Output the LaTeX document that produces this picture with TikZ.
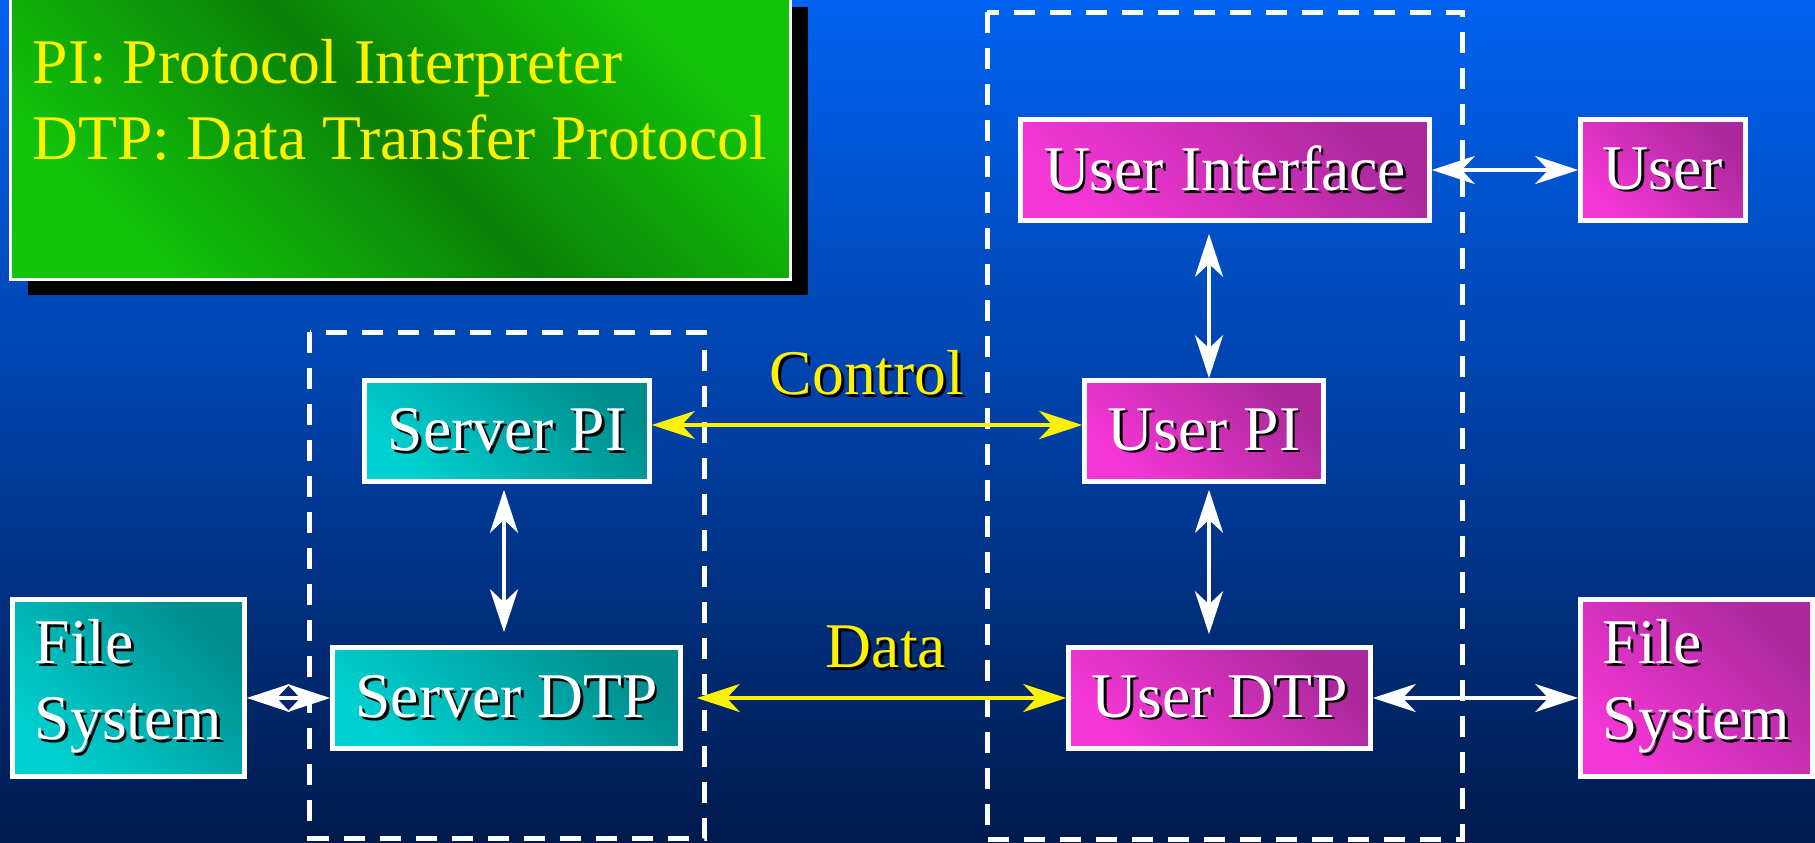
\documentclass[tikz,border=0pt]{standalone}
\usepackage{fontspec}
\setmainfont{Liberation Serif}
\usetikzlibrary{arrows.meta,shadows}
\definecolor{ftpsky}{RGB}{0,98,240}
\definecolor{ftpmid}{RGB}{0,64,165}
\definecolor{ftpnight}{RGB}{0,26,76}
\definecolor{tealhi}{RGB}{0,208,208}
\definecolor{teallo}{RGB}{0,140,140}
\definecolor{pinkhi}{RGB}{245,55,215}
\definecolor{pinklo}{RGB}{170,40,155}
\definecolor{keyhi}{RGB}{18,196,10}
\definecolor{keylo}{RGB}{10,128,8}
% white (or yellow) text with a small black shadow
\newcommand{\embossed}[1]{\makebox[0pt][l]{\kern0.8pt\raisebox{-0.8pt}{\textcolor{black}{#1}}}#1}

\begin{document}
\begin{tikzpicture}[
  font=\fontsize{18.1}{21.6}\selectfont,
  >={Stealth[length=0.43cm,width=0.28cm,inset=0.13cm]},
  blk/.style={rectangle,draw=white,line width=0.045cm,text=white,inner sep=0pt,minimum height=1.01cm},
  srv/.style={blk,left color=tealhi,right color=teallo,shading angle=135},
  usr/.style={blk,left color=pinkhi,right color=pinklo,shading angle=135},
  key/.style={rectangle,draw=white,line width=0.025cm,top color=keyhi,bottom color=keyhi,middle color=keylo,shading angle=-45,
    drop shadow={shadow xshift=0.17cm,shadow yshift=-0.15cm,fill=black,opacity=1}},
  frame/.style={draw=white,line width=0.05cm,dash pattern=on 0.21cm off 0.15cm},
  warr/.style={<->,draw=white,line width=0.04cm},
  yarr/.style={<->,draw=yellow,line width=0.04cm},
  flow/.style={above=0.25cm,inner sep=0pt,text=yellow}
]
% background
\shade[top color=ftpsky,bottom color=ftpnight,middle color=ftpmid] (0,0) rectangle (18.15,-8.42);
\useasboundingbox (0,0) rectangle (18.15,-8.42);

% legend
\node[key,minimum width=7.80cm,minimum height=2.88cm] (key) at (4.005,-1.355) {};
\node[anchor=north west,align=left,inner sep=0pt,text=yellow] (keytext) at (0.32,-0.385)
  {PI: Protocol Interpreter\\DTP: Data Transfer Protocol};

% server and client sides
\draw[frame] (3.095,-3.32) rectangle (7.04,-8.38);
\draw[frame] (9.87,-0.12) rectangle (14.62,-8.39);

\node[srv,minimum width=2.85cm] (spi) at (5.07,-4.31) {\embossed{Server PI}};
\node[srv,minimum width=3.48cm] (sdtp) at (5.065,-6.98) {\embossed{Server DTP}};
\node[srv,minimum width=2.32cm,minimum height=1.77cm,align=left] (sfs) at (1.285,-6.88) {\embossed{File}\\\embossed{System}};

\node[usr,minimum width=4.09cm] (ui) at (12.25,-1.70) {\embossed{User Interface}};
\node[usr,minimum width=1.65cm] (user) at (16.63,-1.70) {\embossed{User}};
\node[usr,minimum width=2.39cm] (upi) at (12.04,-4.31) {\embossed{User PI}};
\node[usr,minimum width=3.02cm] (udtp) at (12.195,-6.98) {\embossed{User DTP}};
\node[usr,minimum width=2.32cm,minimum height=1.77cm,align=left] (ufs) at (16.965,-6.88) {\embossed{File}\\\embossed{System}};

\coordinate (scol) at (5.04,0);
\coordinate (ucol) at (12.09,0);

% connections
\draw[warr] (ui.east) -- (user.west);
\draw[warr,shorten <=0.11cm] (ui.south -| ucol) -- (upi.north -| ucol);
\draw[warr,shorten <=0.06cm,shorten >=0.11cm] (upi.south -| ucol) -- (udtp.north -| ucol);
\draw[warr,shorten <=0.06cm,shorten >=0.13cm] (spi.south -| scol) -- (sdtp.north -| scol);
\draw[warr] (udtp.east) -- (udtp.east -| ufs.west);
\draw[warr] (sdtp.west -| sfs.east) -- (sdtp.west);
\draw[yarr] ([yshift=0.06cm]spi.east) -- node[flow]{\embossed{Control}} ([yshift=0.06cm]upi.west);
\draw[yarr,shorten <=0.14cm] (sdtp.east) -- node[flow,pos=0.53]{\embossed{Data}} (udtp.west);
\end{tikzpicture}
\end{document}
